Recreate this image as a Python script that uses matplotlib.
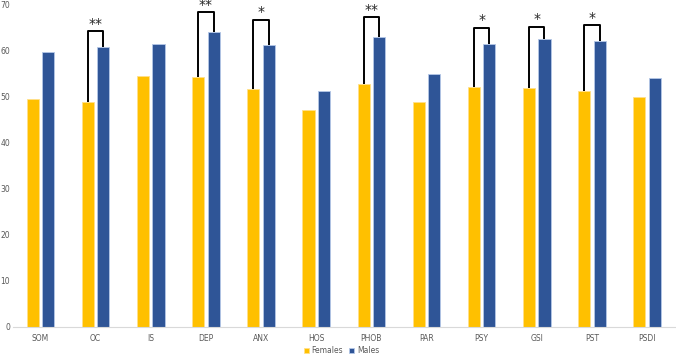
import numpy as np
import matplotlib.pyplot as plt

categories = ['SOM', 'OC', 'IS', 'DEP', 'ANX', 'HOS', 'PHOB', 'PAR', 'PSY', 'GSI', 'PST', 'PSDI']
females = [49.6, 49.0, 54.6, 54.4, 51.7, 47.1, 52.8, 49.0, 52.2, 52.0, 51.2, 50.0]
males = [59.7, 60.9, 61.6, 64.1, 61.2, 51.2, 63.1, 55.1, 61.6, 62.6, 62.2, 54.2]

# significance brackets: category index, bracket top, label
sig_idx = [1, 3, 4, 6, 8, 9, 10]
sig_top = [64.3, 68.5, 66.8, 67.3, 65.1, 65.3, 65.6]
sig_label = ['**', '**', '*', '**', '*', '*', '*']

fig = plt.figure(figsize=(6.76, 3.55), dpi=100)
ax = fig.add_axes([0.019, 0.079, 0.979, 0.907])

x = np.arange(len(categories))
off = 0.14
w = 0.22
ax.bar(x - off, females, w, color='#FFC000', edgecolor='#FFE08A', linewidth=0.6, label='Females')
ax.bar(x + off, males, w, color='#2F5597', edgecolor='#B4C7E7', linewidth=0.6, label='Males')

for i, top, lab in zip(sig_idx, sig_top, sig_label):
    ax.plot([i - off, i - off, i + off, i + off], [females[i], top, top, males[i]],
            color='black', lw=1.4, solid_joinstyle='round', solid_capstyle='butt')
    ax.text(i, top + 1.6, lab, ha='center', va='center', fontsize=10, color='#262626',
            clip_on=False)

ax.set_xlim(-0.5, len(categories) - 0.5)
ax.set_ylim(0, 70)
ax.set_yticks(np.arange(0, 71, 10))
ax.set_xticks(x)
ax.set_xticklabels(categories)
ax.tick_params(axis='both', length=0, labelsize=5.5, labelcolor='#595959')
ax.tick_params(axis='x', pad=5)
ax.tick_params(axis='y', pad=2)
for s in ['top', 'right', 'left']:
    ax.spines[s].set_visible(False)
ax.spines['bottom'].set_color('#D9D9D9')
ax.spines['bottom'].set_linewidth(0.8)

fig.legend(loc='lower center', bbox_to_anchor=(0.505, -0.02), ncol=2, frameon=False,
           fontsize=5.5, labelcolor='#595959', handlelength=0.7, handleheight=0.7,
           handletextpad=0.3, columnspacing=0.8)

fig.savefig('out.png', dpi=100)
